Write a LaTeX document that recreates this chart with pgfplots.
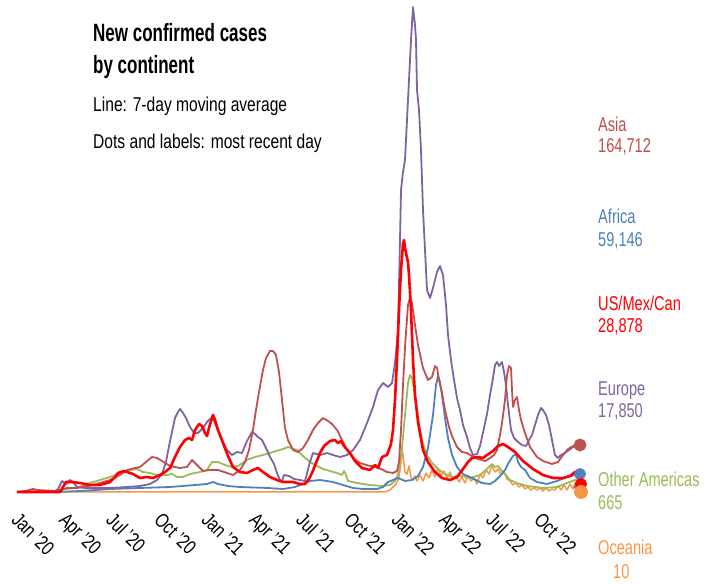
\documentclass[border=0pt]{standalone}
\usepackage{fontspec}
\setmainfont{Liberation Sans}[FakeStretch=0.78]
\newfontfamily\titlefont{Liberation Sans}[FakeStretch=0.68]
\newfontfamily\rlabfont{Liberation Sans}[FakeStretch=0.73]
\usepackage{pgfplots}
\pgfplotsset{compat=1.18}
\definecolor{asia}{HTML}{C0504D}
\definecolor{africa}{HTML}{4F81BD}
\definecolor{usmc}{HTML}{FF0000}
\definecolor{europe}{HTML}{8064A2}
\definecolor{otheram}{HTML}{9BBB59}
\definecolor{oceania}{HTML}{F79646}
\newcommand{\lbl}{\fontsize{20}{24}\selectfont}
\begin{document}
\begin{tikzpicture}
\path[use as bounding box] (0,0) rectangle (706pt,583pt);
\begin{axis}[
  at={(10pt,91pt)}, anchor=south west,
  width=580pt, height=490pt, scale only axis,
  xmin=10, xmax=590, ymin=0, ymax=490,
  axis line style={draw=none}, tick style={draw=none},
  ytick=\empty,
  xtick={20.4,67.9,115.4,162.9,210.4,257.9,305.4,352.9,400.4,447.9,495.4,542.9},
  xticklabels={Jan '20,Apr '20,Jul '20,Oct '20,Jan '21,Apr '21,Jul '21,Oct '21,Jan '22,Apr '22,Jul '22,Oct '22},
  xticklabel shift=19pt,
  xticklabel style={font=\lbl, inner sep=0pt, anchor=north west, rotate=-45},
  clip=false,
  every axis plot/.append style={line width=1.8pt, line join=round, mark=none},
]
% Oceania
\addplot[oceania, line width=1.5pt] coordinates {(17,0)(385,0)(390,2)(393,5)(396,8)(399,14)(401,30)(402,42)(403,37)(405,20)(407,18)(409,26)(411,15)(413,12)(415,16)(417,11)(420,17)(423,11)(426,19)(429,14)(432,22)(435,15)(438,24)(441,16)(444,21)(447,14)(450,20)(453,12)(456,16)(459,10)(462,15)(465,9)(468,16)(471,11)(474,14)(477,8)(480,18)(483,14)(486,22)(489,18)(492,26)(495,20)(498,23)(501,17)(504,20)(507,13)(510,11)(513,7)(516,9)(519,5)(522,7)(525,3)(528,5)(531,2)(534,4)(537,2)(540,4)(543,1)(546,4)(549,1)(552,3)(555,2)(558,6)(561,2)(564,7)(567,2)(570,8)(573,3)(576,12)(578,2)(580,1)};
% Other Americas
\addplot[otheram] coordinates {(17,0)(58,1)(65,3)(77,4)(90,9)(100,12)(110,15)(120,19)(130,22)(137,23)(143,20)(150,19)(157,17)(167,17)(172,18)(177,15)(183,15)(190,18)(200,20)(207,22)(210,27)(212,30)(218,30)(225,27)(232,25)(238,26)(247,32)(255,35)(263,37)(273,40)(283,43)(288,45)(297,42)(303,36)(310,30)(317,26)(323,23)(330,21)(337,19)(342,17)(344,21)(346,17)(348,11)(357,9)(370,7)(383,6)(390,7)(395,11)(398,18)(400,27)(402,45)(405,77)(408,109)(410,117)(412,114)(414,102)(417,82)(420,62)(423,48)(427,37)(432,29)(438,23)(445,18)(452,15)(462,16)(470,14)(480,17)(488,24)(492,28)(495,25)(498,26)(501,22)(505,18)(510,12)(517,9)(527,6)(543,4)(557,5)(567,9)(575,12)(580,14)};
% Africa
\addplot[africa] coordinates {(17,0)(57,0)(80,1)(110,3)(140,4)(170,5)(195,7)(207,8)(213,10)(218,8)(228,6)(240,5)(268,4)(283,3)(295,5)(303,8)(310,11)(320,12)(333,10)(343,7)(353,4)(363,3)(377,3)(383,5)(388,10)(393,12)(398,14)(405,11)(412,12)(418,16)(423,25)(428,44)(433,77)(436,107)(438,116)(440,110)(442,97)(445,74)(448,54)(452,37)(457,25)(463,18)(472,14)(482,9)(490,8)(495,11)(500,16)(505,22)(509,30)(513,36)(516,38)(518,30)(521,25)(525,22)(530,14)(537,10)(547,8)(557,11)(567,15)(575,17)(580,18)};
% Europe
\addplot[europe] coordinates {(17,0)(55,1)(58,3)(62,11)(66,8)(70,12)(73,10)(77,5)(85,4)(93,4)(110,4)(127,5)(140,6)(150,8)(157,12)(162,18)(166,30)(169,46)(172,60)(175,74)(178,80)(180,83)(183,79)(186,74)(190,65)(194,59)(198,59)(203,64)(207,70)(210,73)(212,74)(214,71)(218,62)(222,52)(227,42)(232,37)(237,40)(242,39)(247,51)(252,60)(255,58)(258,55)(262,52)(266,44)(270,35)(274,28)(277,19)(280,12)(282,11)(284,17)(289,16)(294,13)(300,12)(305,11)(310,30)(313,39)(320,37)(327,39)(333,37)(340,35)(347,37)(353,42)(360,52)(367,69)(373,85)(378,102)(383,109)(388,105)(392,109)(395,129)(398,162)(400,252)(401,302)(403,320)(405,332)(407,372)(409,412)(411,452)(413,485)(415,467)(416,452)(417,402)(419,382)(421,342)(423,282)(425,242)(427,202)(430,194)(433,204)(437,220)(440,226)(443,217)(446,187)(448,157)(451,132)(454,112)(457,94)(460,82)(463,67)(467,55)(470,44)(473,37)(477,38)(480,46)(484,64)(487,78)(490,97)(493,114)(495,127)(497,130)(499,126)(502,130)(504,120)(506,107)(508,87)(511,62)(514,54)(518,50)(522,47)(526,46)(529,52)(532,57)(535,67)(538,77)(541,84)(543,82)(546,77)(549,67)(552,52)(555,37)(558,34)(561,37)(565,39)(569,42)(573,45)(578,46)};
% Asia
\addplot[asia] coordinates {(17,0)(25,1)(33,3)(38,2)(55,1)(60,2)(67,4)(77,4)(93,7)(110,12)(120,17)(127,22)(135,24)(140,25)(146,30)(152,35)(157,34)(162,31)(170,26)(180,24)(187,25)(192,32)(197,27)(203,21)(210,22)(218,22)(227,19)(233,17)(240,22)(245,30)(249,42)(253,62)(256,82)(259,100)(263,122)(266,134)(270,141)(273,141)(276,137)(279,120)(282,92)(285,64)(288,52)(293,42)(298,40)(303,44)(308,52)(313,62)(318,69)(323,74)(328,71)(332,68)(337,62)(342,52)(347,42)(353,34)(360,29)(370,26)(377,25)(387,20)(393,19)(397,21)(399,30)(401,62)(403,107)(405,145)(408,187)(410,194)(412,189)(415,167)(418,147)(423,124)(428,112)(432,115)(435,126)(437,124)(439,112)(442,99)(445,82)(449,65)(452,56)(457,45)(462,40)(467,39)(472,36)(478,33)(485,31)(490,34)(494,37)(497,42)(500,57)(502,69)(505,92)(507,117)(509,126)(511,124)(512,102)(513,85)(515,92)(517,95)(519,82)(521,72)(525,59)(530,45)(537,35)(543,31)(552,28)(558,30)(563,37)(568,43)(573,46)(579,47)};
% US/Mex/Can
\addplot[usmc, line width=2.6pt] coordinates {(17,0)(60,0)(63,5)(66,10)(72,10)(80,9)(90,7)(100,7)(110,10)(115,15)(118,19)(124,21)(127,20)(133,18)(140,14)(147,15)(153,14)(160,17)(165,20)(170,24)(175,35)(180,45)(185,52)(189,54)(192,52)(195,62)(199,68)(202,66)(205,59)(207,56)(209,64)(212,74)(213,77)(215,72)(218,62)(223,49)(228,36)(233,25)(240,20)(247,19)(253,22)(258,24)(263,20)(270,15)(277,12)(283,10)(293,10)(300,8)(305,8)(309,13)(312,19)(316,29)(320,39)(324,46)(330,51)(335,52)(338,49)(341,51)(344,46)(350,39)(355,31)(362,24)(370,22)(375,27)(378,24)(382,35)(387,37)(391,48)(393,62)(395,92)(397,132)(399,182)(401,222)(403,248)(404,252)(405,244)(406,239)(407,234)(408,230)(409,217)(411,182)(413,132)(415,97)(418,70)(423,42)(428,30)(435,20)(442,14)(450,12)(457,15)(463,23)(468,30)(472,34)(478,35)(483,34)(487,37)(493,41)(498,46)(503,48)(508,45)(515,40)(523,31)(533,23)(543,17)(553,14)(563,14)(570,16)(575,20)(580,16)};
% most recent day dots
\addplot[only marks, mark=*, mark size=5pt, africa] coordinates {(580,18)};
\addplot[only marks, mark=*, mark size=5pt, europe] coordinates {(580,5)};
\addplot[only marks, mark=*, mark size=5pt, usmc] coordinates {(581,8)};
\addplot[only marks, mark=*, mark size=5pt, otheram] coordinates {(581,1)};
\addplot[only marks, mark=*, mark size=6pt, oceania] coordinates {(581,0)};
\addplot[only marks, mark=*, mark size=5.5pt, asia] coordinates {(580,47)};
\end{axis}
% titles
\node[anchor=base west, inner sep=0pt] at (93pt,541.3pt) {\titlefont\bfseries\fontsize{25}{28}\selectfont New confirmed cases};
\node[anchor=base west, inner sep=0pt] at (93pt,509pt) {\titlefont\bfseries\fontsize{25}{28}\selectfont by continent};
\node[anchor=base west, inner sep=0pt] at (93pt,471pt) {\lbl Line: 7-day moving average};
\node[anchor=base west, inner sep=0pt] at (93pt,434pt) {\lbl Dots and labels: most recent day};
% right labels
\begin{scope}[every node/.style={anchor=base west, inner sep=0pt, font=\rlabfont\lbl}]
\node[text=asia] at (598pt,451.3pt) {Asia};
\node[text=asia] at (598pt,430pt) {164,712};
\node[text=africa] at (598pt,359pt) {Africa};
\node[text=africa] at (598pt,336pt) {59,146};
\node[text=usmc] at (598pt,272pt) {US/Mex/Can};
\node[text=usmc] at (598pt,250pt) {28,878};
\node[text=europe] at (598pt,187pt) {Europe};
\node[text=europe] at (598pt,165pt) {17,850};
\node[text=otheram] at (598pt,96pt) {Other Americas};
\node[text=otheram] at (598pt,73pt) {665};
\node[text=oceania] at (598pt,28pt) {Oceania};
\node[text=oceania] at (613pt,5pt) {10};
\end{scope}
\end{tikzpicture}
\end{document}
